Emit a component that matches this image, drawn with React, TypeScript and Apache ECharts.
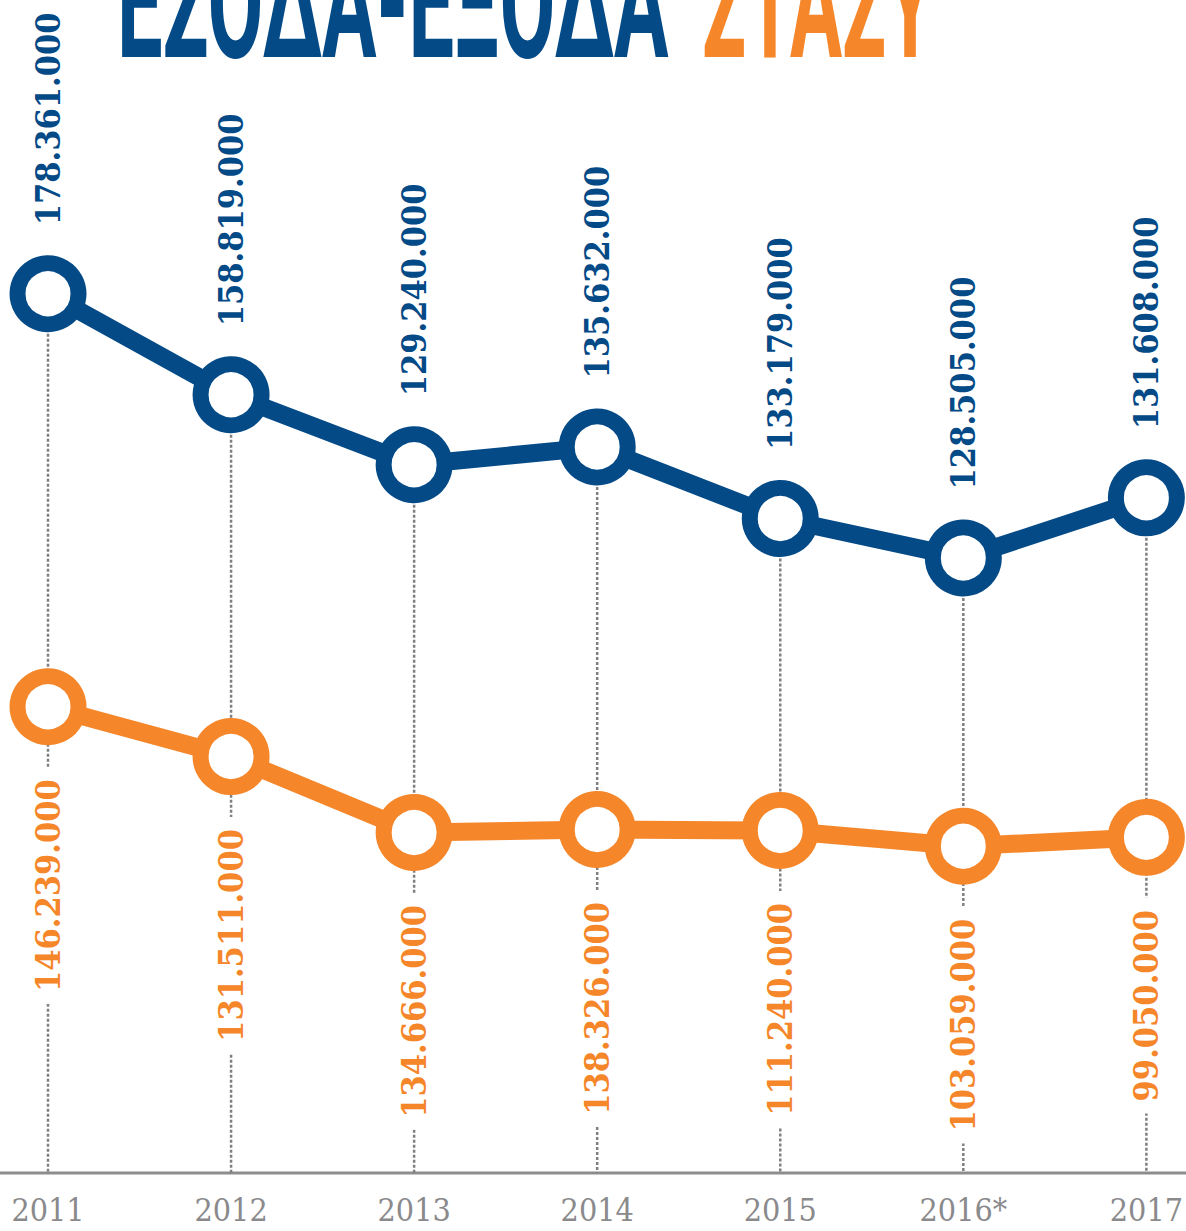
import { useEffect, useRef } from 'react';
import * as echarts from 'echarts';

// Categories (x axis)
const years = ['2011', '2012', '2013', '2014', '2015', '2016*', '2017'];

// Values printed next to each point
const blueValueLabels = ['178.361.000', '158.819.000', '129.240.000', '135.632.000', '133.179.000', '128.505.000', '131.608.000'];
const orangeValueLabels = ['146.239.000', '131.511.000', '134.666.000', '138.326.000', '111.240.000', '103.059.000', '99.050.000'];

// Heights of the points as drawn in the picture (thousands, on the picture's drawn scale)
const blueHeights = [178.4, 157.9, 143.7, 147.3, 132.8, 124.8, 137.0];
const orangeHeights = [94.6, 84.5, 69.1, 69.7, 69.5, 66.3, 68.1];

const titleMain = 'ΕΣΟΔΑ-ΕΞΟΔΑ';
const titleAccent = 'ΣΤΑΣΥ';

const BLUE = '#034a87';
const ORANGE = '#f5862a';
const GRAY = '#8a8a8c';
const SERIF = '"DejaVu Serif Condensed", "DejaVu Serif", serif';

function measure(text: string, font: string): number {
  const ctx = document.createElement('canvas').getContext('2d');
  if (!ctx) return text.length * 50;
  ctx.font = font;
  return ctx.measureText(text).width;
}

export default function App() {
  const ref = useRef<HTMLDivElement>(null);

  useEffect(() => {
    document.body.style.margin = '0';
    document.body.style.overflow = 'hidden';
    if (!ref.current) return;
    const chart = echarts.init(ref.current, null, { renderer: 'svg' });

    const titleFontSize = 160;
    const titleFamily = 'Roboto';
    const titleFont = `bold ${titleFontSize}px ${titleFamily}`;
    const mainW = measure(titleMain, titleFont);
    const accentW = measure(titleAccent, titleFont);
    const mainScale = 552 / mainW;
    const accentScale = 232 / accentW;

    const option: any = {
      animation: false,
      backgroundColor: '#ffffff',
      grid: { left: 48, right: 36, top: 0, bottom: 58, containLabel: false },
      xAxis: {
        type: 'category',
        data: years,
        boundaryGap: false,
        axisLine: { show: false },
        axisTick: { show: false },
        splitLine: { show: false },
        axisLabel: {
          interval: 0,
          color: GRAY,
          fontSize: 32,
          fontFamily: SERIF,
          margin: 21,
        },
      },
      yAxis: { type: 'value', min: 0, max: 238, show: false },
      graphic: [
        {
          type: 'line',
          z: 0,
          shape: { x1: 0, y1: 1173, x2: 1186, y2: 1173 },
          style: { stroke: '#8d8d8f', lineWidth: 3 },
        },
        {
          type: 'text',
          x: 117,
          y: 2,
          scaleX: mainScale,
          style: {
            text: titleMain,
            x: 0,
            y: 0,
            fill: BLUE,
            fontSize: titleFontSize,
            fontWeight: 'bold',
            fontFamily: titleFamily,
            textAlign: 'left',
            textVerticalAlign: 'middle',
          },
        },
        {
          type: 'text',
          x: 702,
          y: 2,
          scaleX: accentScale,
          style: {
            text: titleAccent,
            x: 0,
            y: 0,
            fill: ORANGE,
            fontSize: titleFontSize,
            fontWeight: 'bold',
            fontFamily: titleFamily,
            textAlign: 'left',
            textVerticalAlign: 'middle',
          },
        },
      ],
      series: [
        {
          type: 'custom',
          name: 'guides',
          z: 1,
          silent: true,
          data: blueHeights.map((v, i) => [i, v]),
          renderItem: (params: any, api: any) => {
            const top = api.coord([api.value(0), api.value(1)]);
            const bottom = api.coord([api.value(0), 0]);
            return {
              type: 'line',
              shape: { x1: top[0], y1: top[1], x2: bottom[0], y2: bottom[1] },
              style: { stroke: '#808082', lineWidth: 2.5, lineDash: [3, 2] },
            };
          },
        },
        {
          type: 'line',
          name: 'ΕΣΟΔΑ',
          z: 3,
          data: blueHeights,
          symbol: 'circle',
          symbolSize: 61,
          lineStyle: { color: BLUE, width: 18 },
          itemStyle: { color: '#ffffff', borderColor: BLUE, borderWidth: 16 },
          label: {
            show: true,
            position: 'top',
            distance: 30,
            rotate: 90,
            align: 'left',
            verticalAlign: 'middle',
            color: BLUE,
            fontSize: 34,
            fontWeight: 'bold',
            fontFamily: SERIF,
            formatter: (p: any) => blueValueLabels[p.dataIndex],
          },
        },
        {
          type: 'line',
          name: 'ΕΞΟΔΑ',
          z: 2,
          data: orangeHeights,
          symbol: 'circle',
          symbolSize: 61,
          lineStyle: { color: ORANGE, width: 18 },
          itemStyle: { color: '#ffffff', borderColor: ORANGE, borderWidth: 16 },
          label: {
            show: true,
            position: 'bottom',
            distance: 22,
            rotate: 90,
            align: 'right',
            verticalAlign: 'middle',
            color: ORANGE,
            fontSize: 34,
            fontWeight: 'bold',
            fontFamily: SERIF,
            backgroundColor: '#ffffff',
            padding: [0, 12],
            formatter: (p: any) => orangeValueLabels[p.dataIndex],
          },
        },
      ],
    };

    chart.setOption(option);
    return () => chart.dispose();
  }, []);

  return <div ref={ref} style={{ width: 1186, height: 1231 }} />;
}
